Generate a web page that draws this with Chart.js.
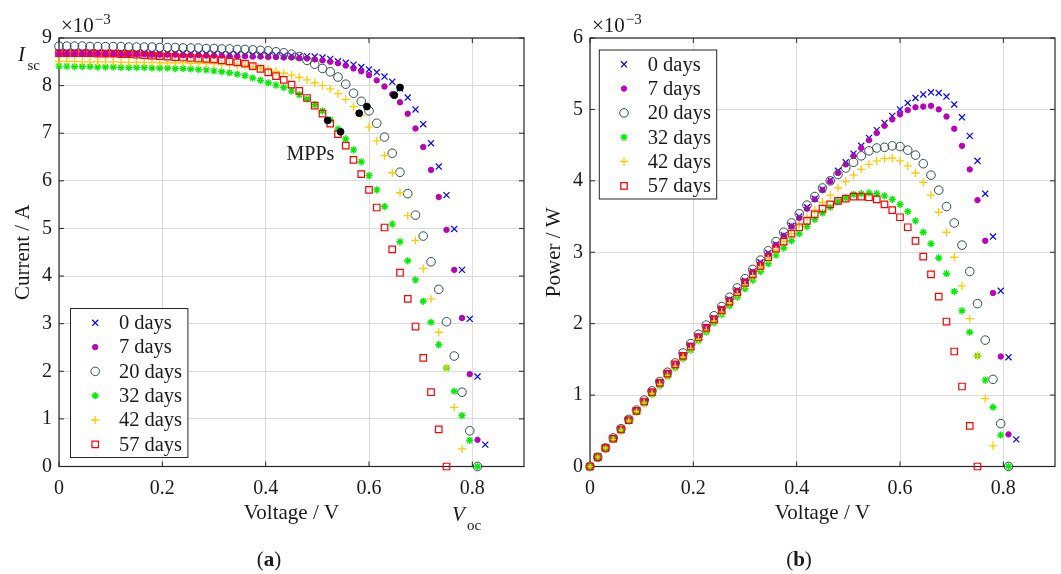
<!DOCTYPE html>
<html>
<head>
<meta charset="utf-8">
<title>I-V and P-V curves</title>
<script src="https://cdn.jsdelivr.net/npm/chart.js@4.4.1/dist/chart.umd.min.js"></script>
<style>
  html, body { margin: 0; padding: 0; background: #fff; }
  #wrap { position: relative; width: 1061px; height: 574px; overflow: hidden; }
  .panel { position: absolute; top: 0; height: 574px; }
  #pa { left: 0; width: 530px; }
  #pb { left: 530px; width: 531px; }
</style>
</head>
<body>
<div id="wrap">
  <div class="panel" id="pa"><canvas id="ivChart" width="530" height="574"></canvas></div>
  <div class="panel" id="pb"><canvas id="pvChart" width="531" height="574"></canvas></div>
</div>
<script>
/* ========= DATA ========= */
// voltage sweep (V), shared by all curves
const voltage = [
  0, 0.015, 0.03, 0.045, 0.06, 0.075, 0.09, 0.105, 0.12, 0.135,
  0.15, 0.165, 0.18, 0.195, 0.21, 0.225, 0.24, 0.255, 0.27, 0.285,
  0.3, 0.315, 0.33, 0.345, 0.36, 0.375, 0.39, 0.405, 0.42, 0.435,
  0.45, 0.465, 0.48, 0.495, 0.51, 0.525, 0.54, 0.555, 0.57, 0.585,
  0.6, 0.615, 0.63, 0.645, 0.66, 0.675, 0.69, 0.705, 0.72, 0.735,
  0.75, 0.765, 0.78, 0.795, 0.81, 0.825
];

const dayLabels = ["0 days", "7 days", "20 days", "32 days", "42 days", "57 days"];

// current (x 10^-3 A)
const current0 = [
  8.70, 8.70, 8.70, 8.70, 8.70, 8.70, 8.69, 8.69, 8.69, 8.69,
  8.69, 8.69, 8.68, 8.68, 8.68, 8.68, 8.68, 8.67, 8.67, 8.67,
  8.67, 8.66, 8.66, 8.66, 8.65, 8.65, 8.65, 8.64, 8.64, 8.63,
  8.63, 8.62, 8.62, 8.61, 8.59, 8.56, 8.51, 8.48, 8.44, 8.39,
  8.34, 8.28, 8.19, 8.08, 7.94, 7.75, 7.50, 7.19, 6.79, 6.30,
  5.70, 4.99, 4.13, 3.10, 1.89, 0.46
];
const current7 = [
  8.67, 8.67, 8.67, 8.67, 8.67, 8.67, 8.66, 8.66, 8.66, 8.66,
  8.66, 8.66, 8.65, 8.65, 8.65, 8.65, 8.64, 8.64, 8.64, 8.63,
  8.63, 8.63, 8.62, 8.62, 8.62, 8.61, 8.61, 8.60, 8.60, 8.59,
  8.59, 8.58, 8.57, 8.55, 8.53, 8.50, 8.47, 8.42, 8.36, 8.30,
  8.22, 8.11, 7.98, 7.82, 7.65, 7.41, 7.10, 6.71, 6.23, 5.66,
  4.97, 4.13, 3.12, 1.94, 0.56
];
const current20 = [
  8.83, 8.83, 8.83, 8.83, 8.82, 8.82, 8.82, 8.82, 8.82, 8.81,
  8.81, 8.81, 8.81, 8.80, 8.80, 8.80, 8.79, 8.79, 8.79, 8.78,
  8.78, 8.77, 8.77, 8.76, 8.76, 8.75, 8.74, 8.73, 8.71, 8.69,
  8.66, 8.61, 8.53, 8.45, 8.36, 8.29, 8.18, 8.03, 7.84, 7.67,
  7.47, 7.21, 6.92, 6.58, 6.18, 5.73, 5.28, 4.84, 4.30, 3.72,
  3.04, 2.32, 1.56, 0.75, 0
];
const current32 = [
  8.41, 8.41, 8.40, 8.40, 8.40, 8.39, 8.39, 8.39, 8.38, 8.38,
  8.38, 8.38, 8.37, 8.37, 8.37, 8.36, 8.36, 8.35, 8.34, 8.33,
  8.31, 8.29, 8.27, 8.24, 8.21, 8.16, 8.11, 8.06, 8.01, 7.96,
  7.89, 7.81, 7.72, 7.60, 7.47, 7.28, 7.09, 6.88, 6.65, 6.40,
  6.11, 5.81, 5.46, 5.09, 4.72, 4.32, 3.92, 3.47, 3.03, 2.56,
  2.07, 1.58, 1.07, 0.55, 0
];
const current42 = [
  8.51, 8.51, 8.51, 8.50, 8.50, 8.50, 8.50, 8.50, 8.49, 8.49,
  8.49, 8.49, 8.49, 8.48, 8.48, 8.48, 8.48, 8.47, 8.47, 8.46,
  8.46, 8.45, 8.44, 8.43, 8.42, 8.40, 8.37, 8.34, 8.30, 8.26,
  8.22, 8.17, 8.12, 8.06, 8.00, 7.93, 7.83, 7.71, 7.56, 7.38,
  7.13, 6.84, 6.53, 6.17, 5.75, 5.27, 4.75, 4.16, 3.52, 2.82,
  2.07, 1.24, 0.37
];
const current57 = [
  8.68, 8.68, 8.68, 8.68, 8.68, 8.67, 8.67, 8.67, 8.66, 8.66,
  8.65, 8.64, 8.63, 8.62, 8.61, 8.60, 8.59, 8.58, 8.57, 8.56,
  8.55, 8.53, 8.51, 8.49, 8.46, 8.41, 8.35, 8.28, 8.20, 8.12,
  8.02, 7.89, 7.74, 7.58, 7.41, 7.20, 6.98, 6.74, 6.44, 6.14,
  5.81, 5.44, 5.02, 4.56, 4.07, 3.52, 2.94, 2.28, 1.56, 0.78,
  0
];

// power (x 10^-3 W)
const power0 = [
  0, 0.13, 0.26, 0.39, 0.52, 0.65, 0.78, 0.91, 1.04, 1.17,
  1.30, 1.43, 1.56, 1.69, 1.82, 1.95, 2.08, 2.21, 2.34, 2.47,
  2.60, 2.73, 2.86, 2.99, 3.11, 3.24, 3.37, 3.50, 3.63, 3.75,
  3.88, 4.01, 4.14, 4.26, 4.38, 4.49, 4.60, 4.71, 4.81, 4.91,
  5.00, 5.09, 5.16, 5.21, 5.24, 5.23, 5.18, 5.07, 4.89, 4.63,
  4.28, 3.82, 3.22, 2.46, 1.53, 0.38
];
const power7 = [
  0, 0.13, 0.26, 0.39, 0.52, 0.65, 0.78, 0.91, 1.04, 1.17,
  1.30, 1.43, 1.56, 1.69, 1.82, 1.95, 2.07, 2.20, 2.33, 2.46,
  2.59, 2.72, 2.84, 2.97, 3.10, 3.23, 3.36, 3.48, 3.61, 3.74,
  3.87, 3.99, 4.11, 4.23, 4.35, 4.46, 4.57, 4.67, 4.77, 4.86,
  4.93, 4.99, 5.03, 5.04, 5.05, 5.00, 4.90, 4.73, 4.49, 4.16,
  3.73, 3.16, 2.43, 1.54, 0.45
];
const power20 = [
  0, 0.13, 0.26, 0.40, 0.53, 0.66, 0.79, 0.93, 1.06, 1.19,
  1.32, 1.45, 1.59, 1.72, 1.85, 1.98, 2.11, 2.24, 2.37, 2.50,
  2.63, 2.76, 2.89, 3.02, 3.15, 3.28, 3.41, 3.54, 3.66, 3.78,
  3.90, 4.00, 4.09, 4.18, 4.26, 4.35, 4.42, 4.46, 4.47, 4.49,
  4.48, 4.43, 4.36, 4.24, 4.08, 3.87, 3.64, 3.41, 3.10, 2.73,
  2.28, 1.77, 1.22, 0.60, 0
];
const power32 = [
  0, 0.13, 0.25, 0.38, 0.50, 0.63, 0.76, 0.88, 1.01, 1.13,
  1.26, 1.38, 1.51, 1.63, 1.76, 1.88, 2.01, 2.13, 2.25, 2.37,
  2.49, 2.61, 2.73, 2.84, 2.96, 3.06, 3.16, 3.26, 3.36, 3.46,
  3.55, 3.63, 3.71, 3.76, 3.81, 3.82, 3.83, 3.82, 3.79, 3.74,
  3.67, 3.57, 3.44, 3.28, 3.12, 2.92, 2.70, 2.45, 2.18, 1.88,
  1.55, 1.21, 0.83, 0.44, 0
];
const power42 = [
  0, 0.13, 0.26, 0.38, 0.51, 0.64, 0.77, 0.89, 1.02, 1.15,
  1.27, 1.40, 1.53, 1.65, 1.78, 1.91, 2.04, 2.16, 2.29, 2.41,
  2.54, 2.66, 2.79, 2.91, 3.03, 3.15, 3.26, 3.38, 3.49, 3.59,
  3.70, 3.80, 3.90, 3.99, 4.08, 4.16, 4.23, 4.28, 4.31, 4.32,
  4.28, 4.21, 4.11, 3.98, 3.80, 3.56, 3.28, 2.93, 2.53, 2.07,
  1.55, 0.95, 0.29
];
const power57 = [
  0, 0.13, 0.26, 0.39, 0.52, 0.65, 0.78, 0.91, 1.04, 1.17,
  1.30, 1.43, 1.55, 1.68, 1.81, 1.94, 2.06, 2.19, 2.31, 2.44,
  2.57, 2.69, 2.81, 2.93, 3.05, 3.15, 3.26, 3.35, 3.44, 3.53,
  3.61, 3.67, 3.72, 3.75, 3.78, 3.78, 3.77, 3.74, 3.67, 3.59,
  3.49, 3.35, 3.16, 2.94, 2.69, 2.38, 2.03, 1.61, 1.12, 0.57,
  0
];

// maximum power points (same order as dayLabels)
const mppVoltage = [0.660, 0.649, 0.596, 0.545, 0.581, 0.520];
const mppCurrent = [7.96, 7.80, 7.56, 7.03, 7.42, 7.27];

/* ========= STYLE ========= */
const FONT = "'Liberation Serif', 'Times New Roman', serif";
const INK  = "#1a1a1a";
const GRID = "#dcdcdc";

const markers = [
  { color: "#0000ff", pointStyle: "crossRot", radius: 4.3, width: 1.2, filled: false },
  { color: "#bb00bb", pointStyle: "circle",   radius: 2.7, width: 1,   filled: true  },
  { color: "#2f4f4f", pointStyle: "circle",   radius: 4.3, width: 1,   filled: false },
  { color: "#00ee00", pointStyle: "star",     radius: 3.6, width: 1.4, filled: false },
  { color: "#ffcc00", pointStyle: "cross",    radius: 4.2, width: 1.3, filled: false },
  { color: "#ff0000", pointStyle: "rect",     radius: 4.6, width: 1.2, filled: false }
];

function toPoints(xs, ys) {
  return ys.map((y, k) => ({ x: xs[k], y: y }));
}

function buildSets(series) {
  return series.map((ys, i) => {
    const m = markers[i];
    return {
      label: dayLabels[i],
      data: toPoints(voltage, ys),
      showLine: false,
      clip: false,
      order: 6 - i,              // MATLAB style: later series on top
      pointStyle: m.pointStyle,
      pointRadius: m.radius,
      pointHoverRadius: m.radius,
      pointBorderWidth: m.width,
      borderColor: m.color,
      pointBorderColor: m.color,
      backgroundColor: m.filled ? m.color : "rgba(0,0,0,0)",
      pointBackgroundColor: m.filled ? m.color : "rgba(0,0,0,0)"
    };
  });
}

/* ========= MARKER HELPER (legend) ========= */
function drawMarker(ctx, m, x, y) {
  const r = m.radius, d = r * Math.SQRT1_2;
  ctx.save();
  ctx.strokeStyle = m.color;
  ctx.fillStyle = m.color;
  ctx.lineWidth = m.width;
  ctx.beginPath();
  if (m.pointStyle === "circle") {
    ctx.arc(x, y, r, 0, Math.PI * 2);
    if (m.filled) ctx.fill();
    ctx.stroke();
  } else if (m.pointStyle === "rect") {
    ctx.rect(x - d, y - d, 2 * d, 2 * d);
    ctx.stroke();
  } else {
    if (m.pointStyle !== "cross") {
      ctx.moveTo(x - d, y - d); ctx.lineTo(x + d, y + d);
      ctx.moveTo(x - d, y + d); ctx.lineTo(x + d, y - d);
    }
    if (m.pointStyle !== "crossRot") {
      ctx.moveTo(x - r, y); ctx.lineTo(x + r, y);
      ctx.moveTo(x, y - r); ctx.lineTo(x, y + r);
    }
    ctx.stroke();
  }
  ctx.restore();
}

/* ========= DECORATION PLUGIN ========= */
const matlabLook = {
  id: "matlabLook",
  beforeDatasetsDraw(chart) {
    const { ctx, chartArea: a, scales } = chart;
    ctx.save();
    ctx.strokeStyle = "#262626";
    ctx.lineWidth = 1;
    // inner tick marks on all four sides
    ctx.beginPath();
    scales.x.ticks.forEach(t => {
      const px = scales.x.getPixelForValue(t.value);
      ctx.moveTo(px, a.bottom); ctx.lineTo(px, a.bottom - 5);
      ctx.moveTo(px, a.top);    ctx.lineTo(px, a.top + 5);
    });
    scales.y.ticks.forEach(t => {
      const py = scales.y.getPixelForValue(t.value);
      ctx.moveTo(a.left, py);  ctx.lineTo(a.left + 5, py);
      ctx.moveTo(a.right, py); ctx.lineTo(a.right - 5, py);
    });
    ctx.stroke();
    ctx.lineWidth = 1.2;
    ctx.strokeRect(a.left, a.top, a.right - a.left, a.bottom - a.top);
    ctx.restore();
  },
  afterDraw(chart, args, opts) {
    const { ctx, chartArea: a } = chart;
    ctx.save();
    ctx.fillStyle = INK;
    ctx.textBaseline = "alphabetic";

    // exponent label above the y axis
    ctx.textAlign = "left";
    ctx.font = "21px " + FONT;
    ctx.fillText("\u00d710", a.left + 2, 32);
    const w = ctx.measureText("\u00d710").width;
    ctx.font = "15px " + FONT;
    ctx.fillText("\u22123", a.left + 3 + w, 24);

    // legend
    const lg = opts.legend;
    const bx = a.left + lg.dx;
    const by = lg.fromBottom ? a.bottom - lg.dy - lg.h : a.top + lg.dy;
    ctx.fillStyle = "#fff";
    ctx.fillRect(bx, by, lg.w, lg.h);
    ctx.strokeStyle = "#262626";
    ctx.lineWidth = 1;
    ctx.strokeRect(bx, by, lg.w, lg.h);
    ctx.font = "20.5px " + FONT;
    ctx.textBaseline = "middle";
    dayLabels.forEach((lab, i) => {
      const cy = by + 14.3 + i * 24.3;
      drawMarker(ctx, markers[i], bx + 24.7, cy);
      ctx.fillStyle = INK;
      ctx.fillText(lab, bx + 48.4, cy + 1);
    });

    // extra annotations
    ctx.textBaseline = "alphabetic";
    ctx.fillStyle = INK;
    (opts.notes || []).forEach(n => {
      ctx.font = n.font + " " + FONT;
      ctx.fillText(n.text, n.x, n.y);
    });

    // sub-figure caption "(a)" / "(b)"
    ctx.font = "21px " + FONT;
    const p1 = ctx.measureText("(").width;
    ctx.font = "bold 21px " + FONT;
    const lw = ctx.measureText(opts.caption).width;
    const total = p1 * 2 + lw;
    let cx = 269 - total / 2;
    ctx.font = "21px " + FONT;
    ctx.fillText("(", cx, 566);
    ctx.font = "bold 21px " + FONT;
    ctx.fillText(opts.caption, cx + p1, 566);
    ctx.font = "21px " + FONT;
    ctx.fillText(")", cx + p1 + lw, 566);
    ctx.restore();
  }
};

/* ========= AXES ========= */
function makeScales(yMax, yTitle) {
  return {
    x: {
      type: "linear", min: 0, max: 0.9,
      afterFit: s => { s.height = 60; },
      ticks: { stepSize: 0.2, includeBounds: false, padding: 10, maxRotation: 0,
               color: INK, font: { family: FONT, size: 20 } },
      grid: { color: GRID, lineWidth: 1, drawTicks: false },
      border: { display: false },
      title: { display: true, text: "Voltage / V", color: INK,
               font: { family: FONT, size: 21 }, padding: { top: 0, bottom: 0 } }
    },
    y: {
      type: "linear", min: 0, max: yMax,
      afterFit: s => { s.width = 59; },
      ticks: { stepSize: 1, padding: 7, color: INK, font: { family: FONT, size: 20 } },
      grid: { color: GRID, lineWidth: 1, drawTicks: false },
      border: { display: false },
      title: { display: true, text: yTitle, color: INK,
               font: { family: FONT, size: 21 }, padding: { top: 11, bottom: 0 } }
    }
  };
}

function baseOptions(yMax, yTitle, padLeft, extras) {
  return {
    responsive: false,
    animation: false,
    events: [],
    layout: { padding: { left: padLeft, top: 38, right: 6, bottom: 47.5 } },
    scales: makeScales(yMax, yTitle),
    plugins: { legend: { display: false }, tooltip: { enabled: false }, matlabLook: extras }
  };
}

/* ========= (a) CURRENT ========= */
const ivSets = buildSets([current0, current7, current20, current32, current42, current57]);
ivSets.unshift({
  label: "MPPs",
  data: toPoints(mppVoltage, mppCurrent),
  showLine: false, clip: false, order: 0,
  pointStyle: "circle", pointRadius: 3.4, pointHoverRadius: 3.4, pointBorderWidth: 1,
  borderColor: "#000", backgroundColor: "#000",
  pointBorderColor: "#000", pointBackgroundColor: "#000"
});

new Chart(document.getElementById("ivChart"), {
  type: "scatter",
  data: { datasets: ivSets },
  options: baseOptions(9, "Current / A", 0, {
    legend: { dx: 11.5, dy: 9, w: 117.4, h: 149, fromBottom: true },
    caption: "a",
    notes: [
      { text: "I",    x: 18,    y: 61,  font: "italic 21px" },
      { text: "sc",   x: 27.5,  y: 69.5, font: "15px" },
      { text: "V",    x: 452,   y: 521, font: "italic 21px" },
      { text: "oc",   x: 467,   y: 530, font: "15px" },
      { text: "MPPs", x: 286.5, y: 159.5, font: "20px" }
    ]
  }),
  plugins: [matlabLook]
});

/* ========= (b) POWER ========= */
new Chart(document.getElementById("pvChart"), {
  type: "scatter",
  data: { datasets: buildSets([power0, power7, power20, power32, power42, power57]) },
  options: baseOptions(6, "Power / W", 1, {
    legend: { dx: 9.3, dy: 12, w: 117.4, h: 149, fromBottom: false },
    caption: "b",
    notes: []
  }),
  plugins: [matlabLook]
});
</script>
</body>
</html>
